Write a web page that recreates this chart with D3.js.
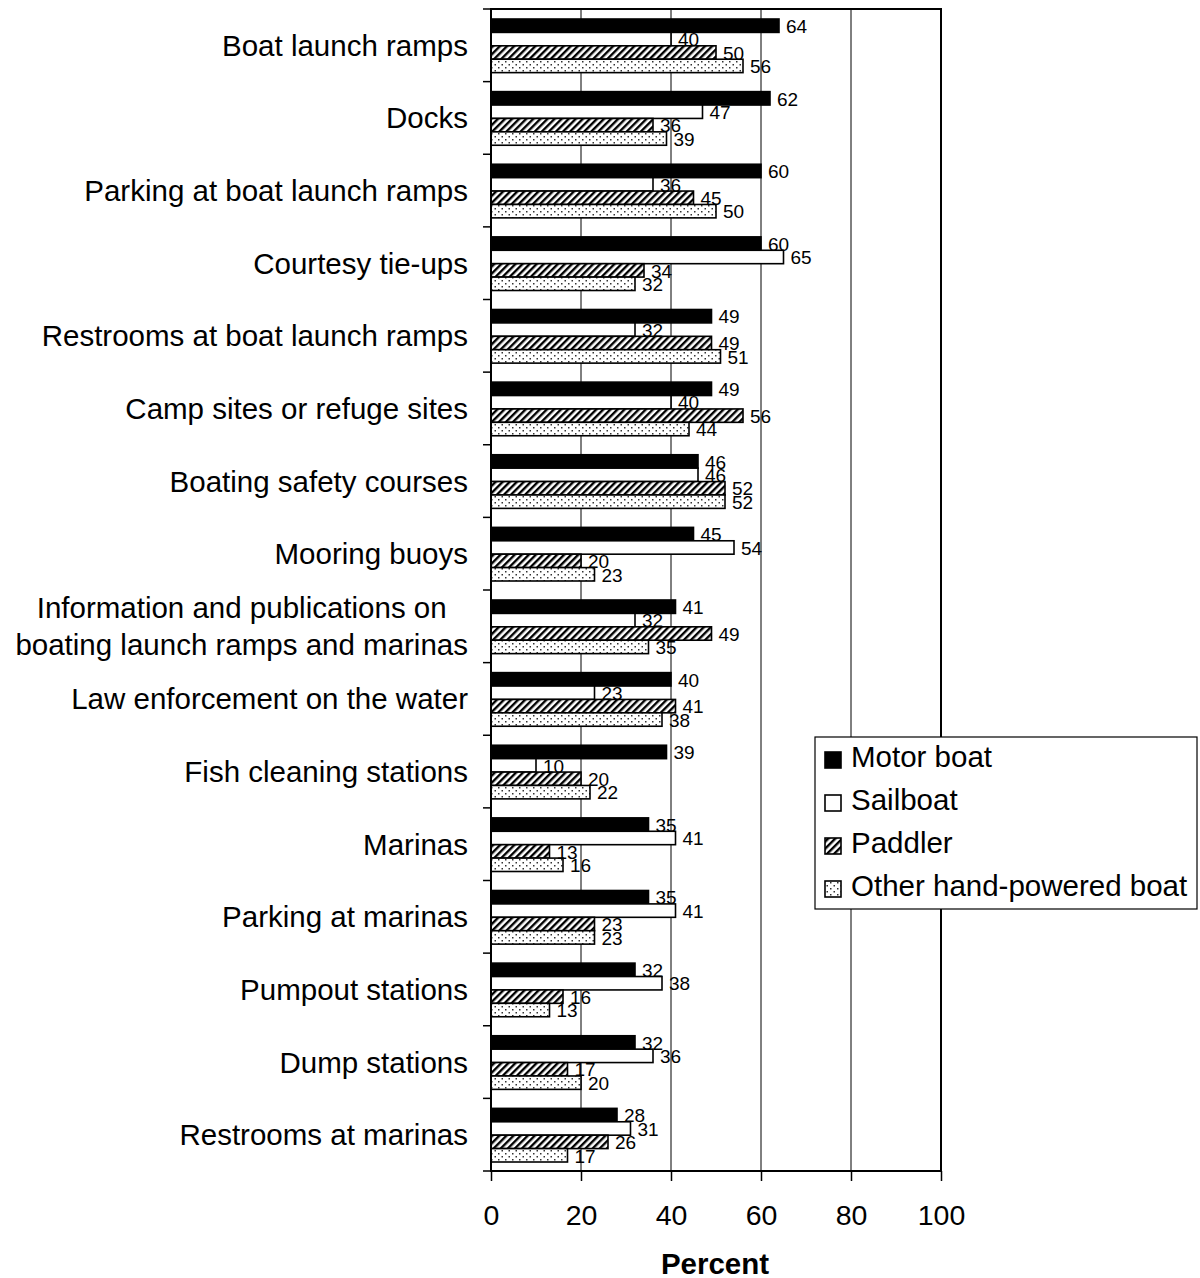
<!DOCTYPE html>
<html><head><meta charset="utf-8">
<script src="https://cdn.jsdelivr.net/npm/d3@7"></script>
<style>body{margin:0;background:#fff}svg{display:block}text{font-family:"Liberation Sans",Arial,sans-serif;fill:#000}</style>
</head><body>
<script>
const categories = ["Boat launch ramps","Docks","Parking at boat launch ramps","Courtesy tie-ups","Restrooms at boat launch ramps","Camp sites or refuge sites","Boating safety courses","Mooring buoys","Information and publications on\nboating launch ramps and marinas","Law enforcement on the water","Fish cleaning stations","Marinas","Parking at marinas","Pumpout stations","Dump stations","Restrooms at marinas"];
const seriesNames = ["Motor boat","Sailboat","Paddler","Other hand-powered boat"];
const motorBoat = [64,62,60,60,49,49,46,45,41,40,39,35,35,32,32,28];
const sailboat  = [40,47,36,65,32,40,46,54,32,23,10,41,41,38,36,31];
const paddler   = [50,36,45,34,49,56,52,20,49,41,20,13,23,16,17,26];
const otherHand = [56,39,50,32,51,44,52,23,35,38,22,16,23,13,20,17];
const xTicks = [0,20,40,60,80,100];
const xTitle = "Percent";

const W=1200,H=1278;
const m={left:491,right:941,top:9,bottom:1171};
const FS=29.5;
const svg=d3.select("body").append("svg").attr("width",W).attr("height",H);
const defs=svg.append("defs");
const hatch=defs.append("pattern").attr("id","hatch").attr("patternUnits","userSpaceOnUse").attr("width",5).attr("height",5).attr("patternTransform","rotate(45)");
hatch.append("rect").attr("width",5).attr("height",5).attr("fill","#fff");
hatch.append("rect").attr("x",0).attr("y",0).attr("width",2.4).attr("height",5).attr("fill","#000");
const dots=defs.append("pattern").attr("id","dots").attr("patternUnits","userSpaceOnUse").attr("width",7).attr("height",6);
dots.append("rect").attr("width",7).attr("height",6).attr("fill","#fff");
dots.append("rect").attr("x",1).attr("y",1).attr("width",1.5).attr("height",1.5).attr("fill","#333");
dots.append("rect").attr("x",4.5).attr("y",4).attr("width",1.5).attr("height",1.5).attr("fill","#333");

const fills=["#000","#fff","url(#hatch)","url(#dots)"];
const data=[motorBoat,sailboat,paddler,otherHand];

const x=d3.scaleLinear().domain([0,100]).range([m.left,m.right]);
const y=d3.scaleBand().domain(categories).range([m.top,m.bottom]);
const inner=d3.scaleBand().domain(seriesNames).range([10,y.bandwidth()-9]);

// gridlines
svg.append("g").selectAll("line").data(xTicks.slice(1,-1)).join("line")
 .attr("x1",d=>x(d)).attr("x2",d=>x(d)).attr("y1",m.top).attr("y2",m.bottom).attr("stroke","#000").attr("stroke-width",1);

// bars
const g=svg.append("g");
categories.forEach((c,i)=>{
  seriesNames.forEach((s,j)=>{
    const v=data[j][i];
    g.append("rect").attr("x",x(0)).attr("y",y(c)+inner(s)).attr("width",x(v)-x(0)).attr("height",inner.bandwidth())
     .attr("fill",fills[j]).attr("stroke","#000").attr("stroke-width",1.6);
  });
});
// labels
categories.forEach((c,i)=>{
  seriesNames.forEach((s,j)=>{
    const v=data[j][i];
    svg.append("text").attr("x",x(v)+7).attr("y",y(c)+inner(s)+inner.bandwidth()+0.5)
     .attr("font-size",19).text(v);
  });
});

// frame
svg.append("rect").attr("x",m.left).attr("y",m.top).attr("width",m.right-m.left).attr("height",m.bottom-m.top)
 .attr("fill","none").attr("stroke","#000").attr("stroke-width",2);

// y ticks
const yb=categories.map(c=>y(c)).concat([m.bottom]);
svg.append("g").selectAll("line").data(yb).join("line")
 .attr("x1",m.left-8).attr("x2",m.left).attr("y1",d=>d).attr("y2",d=>d).attr("stroke","#000").attr("stroke-width",1.5);

// x axis
const xa=svg.append("g").attr("transform",`translate(0,${m.bottom})`)
 .call(d3.axisBottom(x).tickValues(xTicks).tickSize(10).tickPadding(24));
xa.select(".domain").remove();
xa.selectAll("line").attr("stroke","#000").attr("stroke-width",1.5);
xa.selectAll("text").attr("font-size",28.5).attr("font-family","Liberation Sans, Arial, sans-serif").attr("fill","#000");

svg.append("text").attr("x",x(50)-1).attr("y",1274).attr("text-anchor","middle").attr("font-size",FS).attr("font-weight","bold").text(xTitle);

// category labels
categories.forEach(c=>{
  const lines=c.split("\n");
  const cy=y(c)+y.bandwidth()/2;
  const t=svg.append("text").attr("font-size",FS);
  if(lines.length===1){
    t.attr("x",468).attr("y",cy+10.5).attr("text-anchor","end").text(c);
  } else {
    const tmp=lines.map(l=>{const tt=svg.append("text").attr("font-size",FS).text(l);const w=tt.node().getComputedTextLength();tt.remove();return w;});
    const mw=d3.max(tmp);
    t.attr("text-anchor","middle");
    lines.forEach((l,k)=>t.append("tspan").attr("x",468-mw/2).attr("y",cy+10.5+(k-(lines.length-1)/2)*37).text(l));
  }
});

// legend
const lg=svg.append("g").attr("transform","translate(815,737)");
lg.append("rect").attr("width",382).attr("height",172).attr("fill","#fff").attr("stroke","#000").attr("stroke-width",1.2);
seriesNames.forEach((s,j)=>{
  const base=30+j*43;
  lg.append("rect").attr("x",10).attr("y",base-15).attr("width",16).attr("height",16).attr("fill",fills[j]).attr("stroke","#000").attr("stroke-width",1.6);
  lg.append("text").attr("x",36).attr("y",base).attr("font-size",FS).text(s);
});
</script>
</body></html>
